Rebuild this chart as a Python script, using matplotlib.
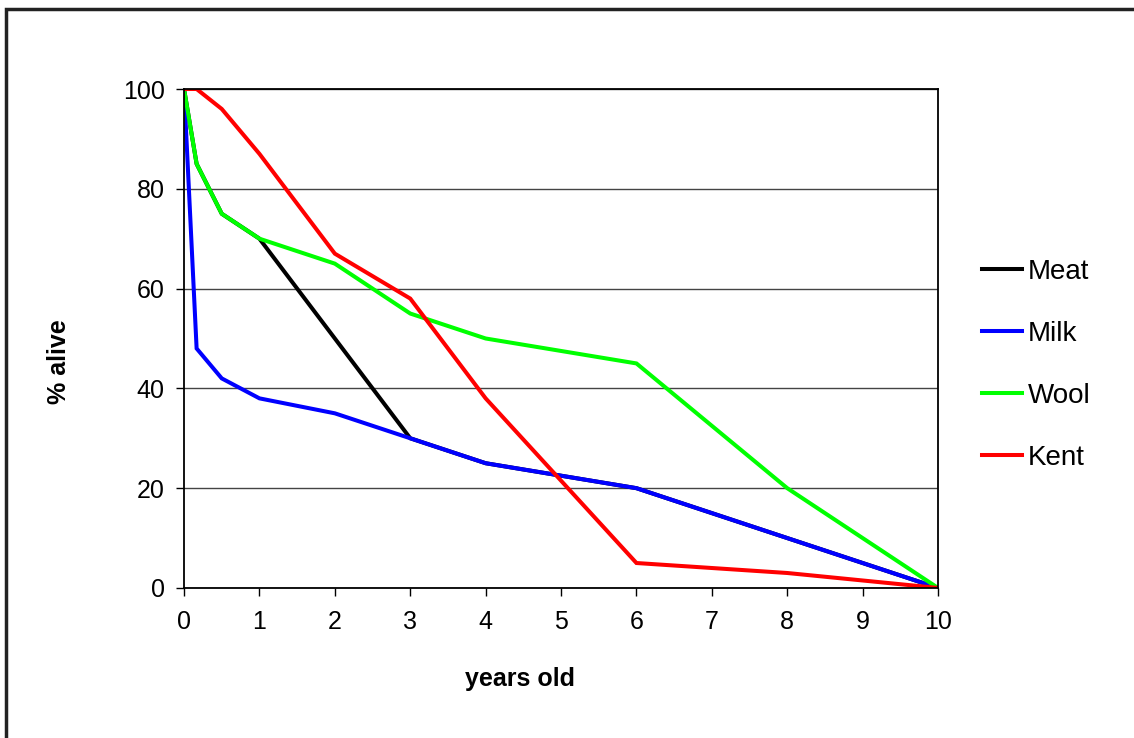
import matplotlib.pyplot as plt
from matplotlib.patches import Rectangle

plt.rcParams['font.family'] = ['Liberation Sans', 'DejaVu Sans']

years = [0, 1/6, 0.5, 1, 2, 3, 4, 6, 8, 10]
meat = [100, 85, 75, 70, 50, 30, 25, 20, 10, 0]
milk = [100, 48, 42, 38, 35, 30, 25, 20, 10, 0]
wool = [100, 85, 75, 70, 65, 55, 50, 45, 20, 0]
kent = [100, 100, 96, 87, 67, 58, 38, 5, 3, 0]

series = [("Meat", meat, "#000000"), ("Milk", milk, "#0000ff"),
          ("Wool", wool, "#00ff00"), ("Kent", kent, "#ff0000")]

fig = plt.figure(figsize=(11.34, 7.38), dpi=100)
ax = fig.add_axes([0.1623, 0.2033, 0.6649, 0.6761])

for name, vals, col in series:
    ax.plot(years, vals, color=col, lw=2.9, label=name, solid_joinstyle='miter')

ax.set_xlim(0, 10)
ax.set_ylim(0, 100)
ax.set_xticks(range(0, 11))
ax.set_yticks(range(0, 101, 20))
ax.yaxis.grid(True, color='#444444', lw=1)
ax.set_axisbelow(True)
for s in ax.spines.values():
    s.set_linewidth(1.3)
ax.tick_params(labelsize=18, length=6, width=1, direction='out')
ax.tick_params(axis='x', pad=10)
ax.tick_params(axis='y', pad=8)
ax.set_xlabel("years old", fontsize=18, fontweight='bold')
ax.set_ylabel("% alive", fontsize=18, fontweight='bold')
ax.xaxis.set_label_coords(0.446, -0.158)
ax.yaxis.set_label_coords(-0.150, 0.453)

ax.legend(loc='upper left', bbox_to_anchor=(1.058, 0.659), frameon=False,
          fontsize=20, handlelength=1.45, handletextpad=0.2,
          labelspacing=1.29, borderaxespad=0, borderpad=0)

fig.patches.append(Rectangle((6 / 1134, -0.1), 1.2, 1 - 9 / 738 + 0.1,
                             transform=fig.transFigure, fill=False,
                             edgecolor='#222222', lw=2.5))

fig.savefig("out.png", dpi=100)
